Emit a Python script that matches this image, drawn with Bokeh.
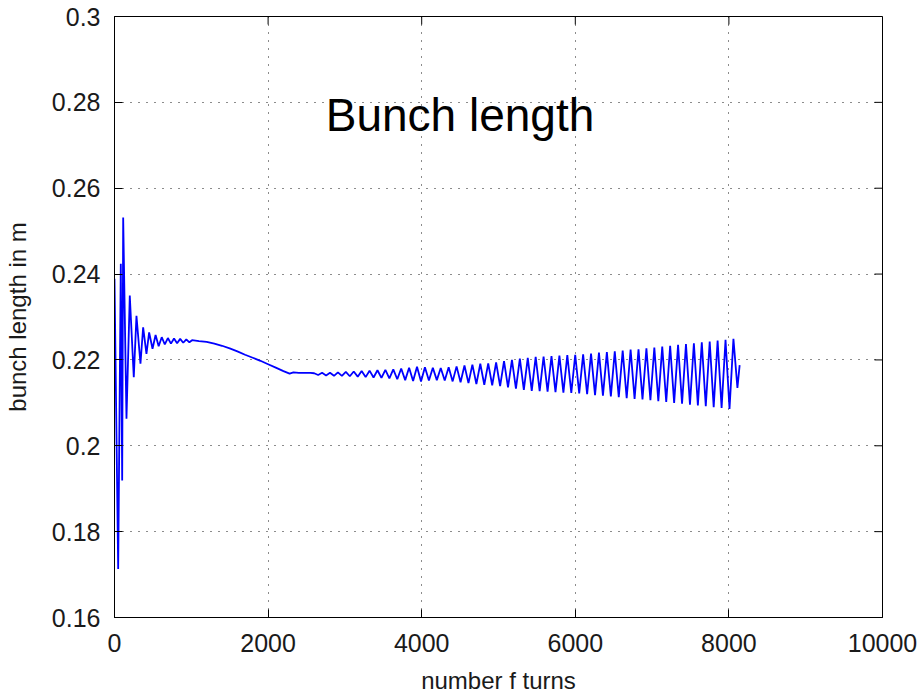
import math
from bokeh.plotting import figure
from bokeh.models import Range1d, FixedTicker, Label
from bokeh.embed import file_html
from bokeh.resources import INLINE

# ---- data ----
x_ticks = [0, 2000, 4000, 6000, 8000, 10000]
y_ticks = [0.16, 0.18, 0.2, 0.22, 0.24, 0.26, 0.28, 0.3]
y_tick_labels = ["0.16", "0.18", "0.2", "0.22", "0.24", "0.26", "0.28", "0.3"]

title_text = "Bunch length"
x_label = "number f turns"
y_label = "bunch length in m"

turns_early = [0, 48, 82, 100, 113, 156, 199, 251, 286, 338,
               373, 416, 451, 495, 535, 575, 615, 655, 695, 735,
               775, 815, 855, 895, 935, 975, 1010, 1100, 1200, 1300,
               1400, 1500, 1600, 1700, 1800, 1900, 2000, 2100, 2200, 2280,
               2330, 2400, 2500, 2550]
length_early = [0.2389, 0.1713, 0.2424, 0.1919, 0.2532, 0.2063, 0.2350, 0.2160, 0.2303, 0.2191,
                0.2276, 0.2214, 0.2264, 0.2226, 0.2258, 0.2232, 0.2253, 0.2236, 0.2251, 0.2238,
                0.2250, 0.2239, 0.2249, 0.2240, 0.2248, 0.2241, 0.2246, 0.2244, 0.2242, 0.2238,
                0.2233, 0.2227, 0.2220, 0.2212, 0.2205, 0.2198, 0.2190, 0.2182, 0.2174, 0.2168,
                0.2171, 0.2170, 0.2170, 0.2170]

turns_late = [2600, 2652, 2703, 2755, 2806, 2858, 2909, 2961, 3012, 3064,
              3115, 3167, 3218, 3270, 3321, 3373, 3424, 3476, 3527, 3579,
              3630, 3682, 3733, 3785, 3836, 3888, 3939, 3991, 4042, 4094,
              4145, 4197, 4248, 4300, 4351, 4403, 4454, 4506, 4557, 4609,
              4660, 4712, 4763, 4815, 4866, 4918, 4969, 5021, 5072, 5124,
              5175, 5227, 5278, 5330, 5381, 5433, 5484, 5536, 5587, 5639,
              5690, 5742, 5793, 5845, 5896, 5948, 5999, 6051, 6102, 6154,
              6205, 6257, 6308, 6360, 6411, 6463, 6514, 6566, 6617, 6669,
              6720, 6772, 6823, 6875, 6926, 6978, 7029, 7081, 7132, 7184,
              7235, 7287, 7338, 7390, 7441, 7493, 7544, 7596, 7647, 7699,
              7750, 7802, 7853, 7905, 7956, 8008, 8059, 8111,
              8140]
length_late = [0.2169, 0.2165, 0.2170, 0.2164, 0.2170, 0.2163, 0.2171, 0.2163, 0.2172, 0.2162,
               0.2173, 0.2161, 0.2174, 0.2160, 0.2175, 0.2159, 0.2176, 0.2158, 0.2177, 0.2157,
               0.2178, 0.2155, 0.2180, 0.2153, 0.2182, 0.2151, 0.2184, 0.2150, 0.2183, 0.2152,
               0.2182, 0.2153, 0.2181, 0.2152, 0.2183, 0.2150, 0.2185, 0.2148, 0.2187, 0.2146,
               0.2189, 0.2144, 0.2191, 0.2142, 0.2192, 0.2141, 0.2194, 0.2139, 0.2197, 0.2136,
               0.2200, 0.2133, 0.2203, 0.2130, 0.2205, 0.2128, 0.2207, 0.2127, 0.2208, 0.2126,
               0.2209, 0.2125, 0.2210, 0.2124, 0.2211, 0.2123, 0.2212, 0.2122, 0.2213, 0.2120,
               0.2215, 0.2118, 0.2217, 0.2117, 0.2218, 0.2115, 0.2220, 0.2113, 0.2222, 0.2111,
               0.2224, 0.2109, 0.2225, 0.2108, 0.2227, 0.2106, 0.2229, 0.2104, 0.2231, 0.2102,
               0.2233, 0.2100, 0.2235, 0.2098, 0.2237, 0.2096, 0.2239, 0.2094, 0.2241, 0.2092,
               0.2243, 0.2090, 0.2245, 0.2088, 0.2247, 0.2086, 0.2249, 0.2135,
               0.2188]

turns = turns_early + turns_late
bunch_length = length_early + length_late

# ---- figure ----
FONT = "Liberation Sans"
TEXT_COLOR = "#1a1a1a"

x_range = Range1d(0, 10000)
y_range = Range1d(0.16, 0.3)

p = figure(width=921, height=696, output_backend="svg", toolbar_location=None,
           x_range=x_range, y_range=y_range,
           min_border_left=113, min_border_right=39, min_border_top=16, min_border_bottom=79,
           background_fill_color="white", border_fill_color="white")

p.outline_line_color = "black"
p.outline_line_width = 1

xt = FixedTicker(ticks=x_ticks)
yt = FixedTicker(ticks=y_ticks)
p.xaxis.ticker = xt
p.yaxis.ticker = yt
p.xgrid.ticker = xt
p.ygrid.ticker = yt
p.yaxis.major_label_overrides = {t: l for t, l in zip(y_ticks, y_tick_labels)}

for g in (p.xgrid, p.ygrid):
    g.grid_line_color = "black"
    g.grid_line_dash = "1 7"
    g.grid_line_width = 1
    g.grid_line_alpha = 0.9

for ax in (p.xaxis[0], p.yaxis[0]):
    ax.axis_line_color = "black"
    ax.major_tick_in = 8
    ax.major_tick_out = 0
    ax.minor_tick_line_color = None
    ax.major_tick_line_color = "black"
    ax.major_label_text_font = FONT
    ax.major_label_text_font_size = "25px"
    ax.major_label_text_color = TEXT_COLOR
    ax.axis_label_text_font = FONT
    ax.axis_label_text_font_size = "24px"
    ax.axis_label_text_font_style = "normal"
    ax.axis_label_text_color = TEXT_COLOR

p.xaxis.axis_label = x_label
p.yaxis.axis_label = y_label
p.xaxis.major_label_standoff = 16
p.xaxis.axis_label_standoff = 12
p.yaxis.major_label_standoff = 14
p.yaxis.axis_label_standoff = 18

# box-style inward ticks on the right and top edges
p.ray(x=[x_range.end for _ in y_ticks], y=y_ticks, length=8, length_units="screen",
      angle=math.pi, line_color="black", line_width=1)
p.ray(x=x_ticks, y=[y_range.end for _ in x_ticks], length=8, length_units="screen",
      angle=-math.pi / 2, line_color="black", line_width=1)

p.line(turns, bunch_length, line_color="#0000ff", line_width=1.8)

p.add_layout(Label(x=2750, y=0.2770, text=title_text, text_font=FONT,
                   text_font_size="46px", text_baseline="alphabetic", text_align="left",
                   text_color="black"))

open("out.html", "w").write(file_html(p, INLINE))
